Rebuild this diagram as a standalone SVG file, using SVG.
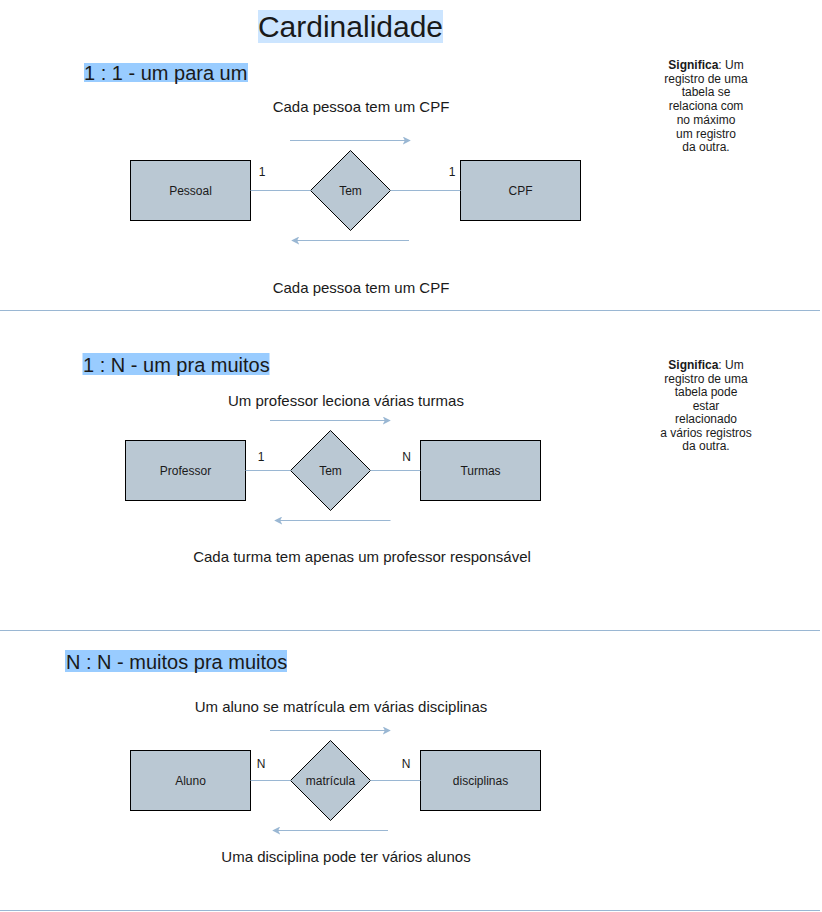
<svg xmlns="http://www.w3.org/2000/svg" width="822" height="912" viewBox="0 0 822 912">
<defs>
<marker id="arr" viewBox="0 0 10 10" refX="9" refY="5" markerWidth="8" markerHeight="8" markerUnits="userSpaceOnUse" orient="auto">
<path d="M0,0 L10,5 L0,10 L2.5,5 Z" fill="#9AB7D3"/>
</marker>
<style>
text{font-family:"Liberation Sans",Arial,sans-serif;fill:#1a1a1a}
.ent{fill:#BAC8D3;stroke:#000;stroke-width:1}
.lbl{font-size:12px;text-anchor:middle}
.card{font-size:12px;text-anchor:middle}
.desc{font-size:15px;text-anchor:middle}
.sig{font-size:12px;text-anchor:middle}
.hd{font-size:20px}
.conn{stroke:#9AB7D3;stroke-width:1;fill:none}
.sep{stroke:#9AB7D3;stroke-width:1}
</style>
</defs>
<rect width="822" height="912" fill="#fff"/>

<g id="title">
<rect x="258" y="10" width="185" height="33" fill="#CCE5FF"/>
<text x="350.5" y="37" font-size="30" text-anchor="middle">Cardinalidade</text>
</g>

<g id="separators">
<line class="sep" x1="0" y1="310.5" x2="820" y2="310.5"/>
<line class="sep" x1="0" y1="630.5" x2="820" y2="630.5"/>
<line class="sep" x1="0" y1="910.5" x2="820" y2="910.5"/>
</g>

<!-- Section 1 -->
<g id="header-1-1">
<rect x="84" y="63" width="164" height="19" fill="#99CCFF"/>
<text class="hd" x="84" y="80">1 : 1 - um para um</text>
</g>
<g id="desc-1-top"><text class="desc" x="361" y="112">Cada pessoa tem um CPF</text></g>
<g id="desc-1-bottom"><text class="desc" x="361" y="292.5">Cada pessoa tem um CPF</text></g>
<g id="sig-1">
<text class="sig" x="706" y="69"><tspan font-weight="bold">Significa</tspan>: Um</text>
<text class="sig" x="706" y="82.7">registro de uma</text>
<text class="sig" x="706" y="96.4">tabela se</text>
<text class="sig" x="706" y="110.1">relaciona com</text>
<text class="sig" x="706" y="123.8">no máximo</text>
<text class="sig" x="706" y="137.5">um registro</text>
<text class="sig" x="706" y="151.2">da outra.</text>
</g>
<g id="pessoal">
<rect class="ent" x="130.5" y="160.5" width="120" height="60"/>
<text class="lbl" x="190.5" y="194.5">Pessoal</text>
</g>
<g id="tem-1">
<path class="ent" d="M350.5,150.5 L390.5,190.5 L350.5,230.5 L310.5,190.5 Z"/>
<text class="lbl" x="350.5" y="194.5">Tem</text>
</g>
<g id="cpf">
<rect class="ent" x="460.5" y="160.5" width="120" height="60"/>
<text class="lbl" x="520.5" y="194.5">CPF</text>
</g>

<!-- Section 2 -->
<g id="header-1-n">
<rect x="82.5" y="353" width="187" height="22" fill="#99CCFF"/>
<text class="hd" x="83" y="372">1 : N - um pra muitos</text>
</g>
<g id="desc-2-top"><text class="desc" x="346" y="405.5">Um professor leciona várias turmas</text></g>
<g id="desc-2-bottom"><text class="desc" x="362" y="562">Cada turma tem apenas um professor responsável</text></g>
<g id="sig-2">
<text class="sig" x="706" y="369"><tspan font-weight="bold">Significa</tspan>: Um</text>
<text class="sig" x="706" y="382.5">registro de uma</text>
<text class="sig" x="706" y="396">tabela pode</text>
<text class="sig" x="706" y="409.5">estar</text>
<text class="sig" x="706" y="423">relacionado</text>
<text class="sig" x="706" y="436.5">a vários registros</text>
<text class="sig" x="706" y="450">da outra.</text>
</g>
<g id="professor">
<rect class="ent" x="125.5" y="440.5" width="120" height="60"/>
<text class="lbl" x="185.5" y="474.5">Professor</text>
</g>
<g id="tem-2">
<path class="ent" d="M330.5,430.5 L370.5,470.5 L330.5,510.5 L290.5,470.5 Z"/>
<text class="lbl" x="330.5" y="474.5">Tem</text>
</g>
<g id="turmas">
<rect class="ent" x="420.5" y="440.5" width="120" height="60"/>
<text class="lbl" x="480.5" y="474.5">Turmas</text>
</g>

<!-- Section 3 -->
<g id="header-n-n">
<rect x="65" y="650" width="222" height="22" fill="#99CCFF"/>
<text class="hd" x="66" y="669">N : N - muitos pra muitos</text>
</g>
<g id="desc-3-top"><text class="desc" x="341" y="712">Um aluno se matrícula em várias disciplinas</text></g>
<g id="desc-3-bottom"><text class="desc" x="346" y="862">Uma disciplina pode ter vários alunos</text></g>
<g id="aluno">
<rect class="ent" x="130.5" y="750.5" width="120" height="60"/>
<text class="lbl" x="190.5" y="784.5">Aluno</text>
</g>
<g id="matricula">
<path class="ent" d="M330.5,740.5 L370.5,780.5 L330.5,820.5 L290.5,780.5 Z"/>
<text class="lbl" x="330.5" y="784.5">matrícula</text>
</g>
<g id="disciplinas">
<rect class="ent" x="420.5" y="750.5" width="120" height="60"/>
<text class="lbl" x="480.5" y="784.5">disciplinas</text>
</g>

<g id="connectors">
<line class="conn" x1="250.5" y1="190.5" x2="310.5" y2="190.5"/>
<line class="conn" x1="390.5" y1="190.5" x2="460.5" y2="190.5"/>
<line class="conn" x1="290" y1="140.5" x2="410" y2="140.5" marker-end="url(#arr)"/>
<line class="conn" x1="409" y1="240.5" x2="292" y2="240.5" marker-end="url(#arr)"/>
<text class="card" x="262" y="176">1</text>
<text class="card" x="452" y="176">1</text>

<line class="conn" x1="245.5" y1="470.5" x2="290.5" y2="470.5"/>
<line class="conn" x1="370.5" y1="470.5" x2="420.5" y2="470.5"/>
<line class="conn" x1="270" y1="420.5" x2="390" y2="420.5" marker-end="url(#arr)"/>
<line class="conn" x1="390.5" y1="520.5" x2="275" y2="520.5" marker-end="url(#arr)"/>
<text class="card" x="261" y="461">1</text>
<text class="card" x="406.5" y="461">N</text>

<line class="conn" x1="250.5" y1="780.5" x2="290.5" y2="780.5"/>
<line class="conn" x1="370.5" y1="780.5" x2="420.5" y2="780.5"/>
<line class="conn" x1="270" y1="730.5" x2="390" y2="730.5" marker-end="url(#arr)"/>
<line class="conn" x1="388" y1="830.5" x2="273" y2="830.5" marker-end="url(#arr)"/>
<text class="card" x="261" y="768">N</text>
<text class="card" x="406" y="768">N</text>
</g>
</svg>
